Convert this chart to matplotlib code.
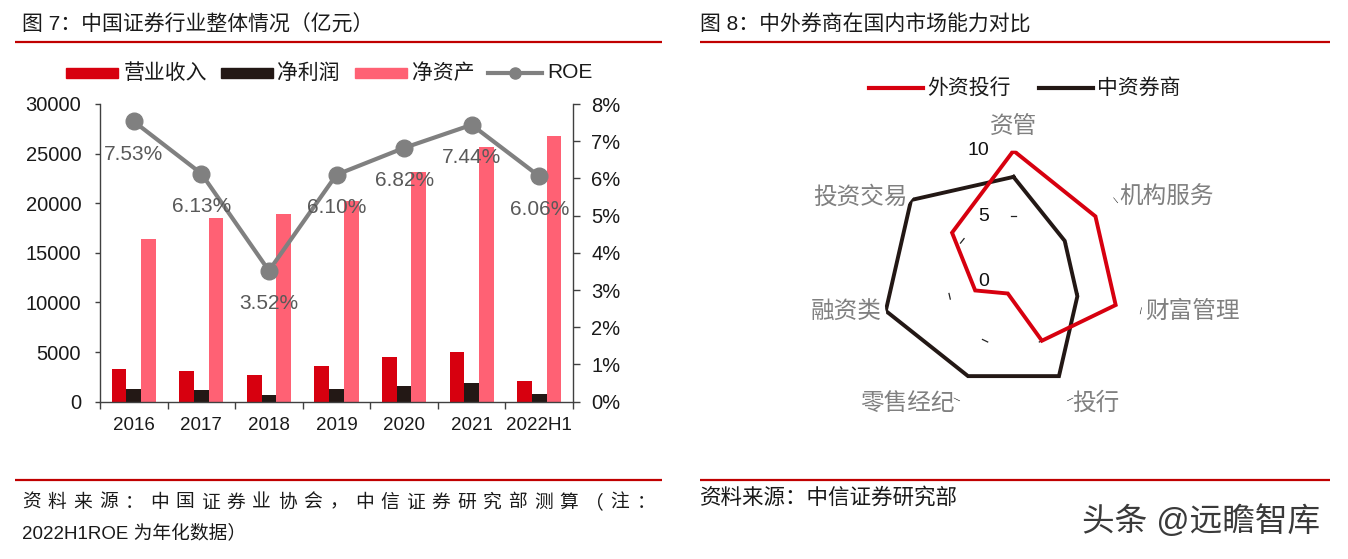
import numpy as np
import matplotlib
matplotlib.use('Agg')
import matplotlib.pyplot as plt
from matplotlib.lines import Line2D
from matplotlib.patches import Rectangle
import matplotlib.transforms as mtransforms

plt.rcParams['font.family'] = ['Liberation Sans', 'Noto Sans CJK SC']

# ---------------- data ----------------
years = ['2016', '2017', '2018', '2019', '2020', '2021', '2022H1']
revenue = [3280, 3113, 2663, 3605, 4485, 5024, 2055]          # 营业收入
net_profit = [1234, 1130, 666, 1231, 1575, 1911, 785]          # 净利润
net_assets = [16400, 18500, 18900, 20200, 23100, 25700, 26800]  # 净资产
roe = [7.53, 6.13, 3.52, 6.10, 6.82, 7.44, 6.06]               # ROE (%)

left_ticks = [0, 5000, 10000, 15000, 20000, 25000, 30000]
right_ticks = [0, 1, 2, 3, 4, 5, 6, 7, 8]

radar_axes = ['资管', '机构服务', '财富管理', '投行', '零售经纪', '融资类', '投资交易']
foreign = [10, 8, 8, 5, 1, 3, 6]      # 外资投行
domestic = [8, 5, 5, 8, 8, 10, 10]    # 中资券商
radar_ticks = [0, 5, 10]

# ---------------- style ----------------
RED = '#D7000F'
BLACK = '#231815'
PINK = '#FF6174'
GRAY = '#7F7F7F'
LINE_RED = '#C00000'
TXT = '#1A1A1A'

W, H = 1348, 559
fig = plt.figure(figsize=(W / 100, H / 100), dpi=100)


def fx(x):
    return x / W


def fy(y):
    return 1 - y / H


def hline(x0, x1, y, lw=1.6, color=LINE_RED):
    fig.add_artist(Line2D([fx(x0), fx(x1)], [fy(y), fy(y)], color=color, lw=lw,
                          transform=fig.transFigure, solid_capstyle='butt'))


# titles and rules
fig.text(fx(22), fy(25), '图 7：中国证券行业整体情况（亿元）', fontsize=15, color=TXT, va='center')
fig.text(fx(700), fy(25), '图 8：中外券商在国内市场能力对比', fontsize=15, color=TXT, va='center')
hline(15, 662, 41.7)
hline(700, 1330, 41.7)
hline(15, 662, 480)
hline(700, 1330, 480)

# ---------------- left chart ----------------
ax = fig.add_axes([fx(100), fy(401.7), fx(573) - fx(100), (401.7 - 104) / H])
x = np.arange(len(years))
bw = 0.218
ax.bar(x - bw, revenue, bw, color=RED, zorder=2)
ax.bar(x, net_profit, bw, color=BLACK, zorder=2)
ax.bar(x + bw, net_assets, bw, color=PINK, zorder=2)
ax.set_xlim(-0.5, len(years) - 0.5)
ax.set_ylim(0, 30000)
ax.set_yticks(left_ticks)
ax.set_yticklabels([str(v) for v in left_ticks])
ax.set_xticks(np.arange(-0.5, len(years), 1))
ax.set_xticklabels([])
ax.set_xticks(x, minor=True)
ax.set_xticklabels(years, minor=True)
ax.tick_params(axis='x', which='major', direction='out', length=5, width=1, color='#404040')
ax.tick_params(axis='x', which='minor', length=0, pad=11, labelsize=13.5, labelcolor=TXT)
ax.tick_params(axis='y', direction='out', length=3.5, width=1, color='#404040', labelsize=14.5,
               labelcolor=TXT, pad=10)
for s in ['top', 'right']:
    ax.spines[s].set_visible(False)
for s in ['left', 'bottom']:
    ax.spines[s].set_color('#404040')
    ax.spines[s].set_linewidth(1)

ax2 = ax.twinx()
ax2.set_ylim(0, 8)
ax2.set_yticks(right_ticks)
ax2.set_yticklabels([f'{v}%' for v in right_ticks])
ax2.plot(x, roe, color='#808080', lw=3, marker='o', markersize=12,
         markerfacecolor='#808080', markeredgecolor='#808080', zorder=3)
for i, v in enumerate(roe):
    ax2.annotate(f'{v:.2f}%', (i, v), xytext=(0, -33), textcoords='offset pixels',
                 ha='center', va='center', fontsize=15, color='#595959', zorder=4)
ax2.tick_params(axis='y', direction='out', length=5, width=1, color='#404040', labelsize=14.5,
                labelcolor=TXT, pad=8)
for s in ['top', 'left', 'bottom']:
    ax2.spines[s].set_visible(False)
ax2.spines['right'].set_color('#404040')
ax2.spines['right'].set_linewidth(1)

# left legend
ly = 72.7
leg_items = [(66, 118, RED, '营业收入', 123.5), (221, 273, BLACK, '净利润', 277.5),
             (355, 407, PINK, '净资产', 412)]
for x0, x1, c, lab, tx in leg_items:
    fig.add_artist(Rectangle((fx(x0), fy(ly + 5)), fx(x1) - fx(x0), 10 / H, color=c,
                             transform=fig.transFigure))
    fig.text(fx(tx), fy(ly), lab, fontsize=15, color=TXT, va='center', ha='left')
fig.add_artist(Line2D([fx(488), fx(542)], [fy(ly), fy(ly)], color='#808080', lw=3,
                      transform=fig.transFigure))
fig.add_artist(Line2D([fx(515)], [fy(ly)], color='#808080', marker='o', markersize=8,
                      transform=fig.transFigure))
fig.text(fx(547), fy(ly), 'ROE', fontsize=15, color=TXT, va='center', ha='left')

# left source
src1 = '资料来源：中国证券业协会，中信证券研究部测算（注：'
fs_src = 13.5
cw = fs_src / 0.72
centers = np.linspace(22 + cw / 2, 655 - cw / 2, len(src1))
for ch, cx in zip(src1, centers):
    fig.text(fx(cx), fy(503), ch, fontsize=fs_src, color=TXT, ha='center', va='center')
fig.text(fx(22), fy(533), '2022H1ROE 为年化数据）', fontsize=fs_src, color=TXT, ha='left', va='center')

# ---------------- radar chart ----------------
cx0, cy0, R = 1013.5, 281.7, 131
axr = fig.add_axes([fx(cx0 - R), fy(cy0 + R), 2 * R / W, 2 * R / H], projection='polar')
axr.set_theta_offset(np.pi / 2)
axr.set_theta_direction(-1)
axr.set_ylim(0, 10)
axr.grid(False)
axr.set_xticks([])
axr.set_yticks([])
axr.spines['polar'].set_visible(False)
axr.patch.set_alpha(0)

n = len(radar_axes)
ang = [2 * np.pi * i / n for i in range(n)]
ang_c = ang + [ang[0]]
axr.plot(ang_c, domestic + [domestic[0]], color=BLACK, lw=2.8, solid_joinstyle='miter', zorder=3)
axr.plot(ang_c, foreign + [foreign[0]], color=RED, lw=2.8, solid_joinstyle='miter', zorder=4)

# small tick marks
for a in ang:
    for r in [5, 10]:
        d = 0.22
        axr.plot([a - np.arctan(d / r), a + np.arctan(d / r)], [np.hypot(r, d), np.hypot(r, d)],
                 color='#222222', lw=0.9, zorder=2)

# radial labels
offs = mtransforms.offset_copy(axr.transData, fig=fig, x=-24, y=0, units='dots')
for t in radar_ticks:
    axr.text(0, t, str(t), transform=offs, ha='right', va='center', fontsize=14, color='#111111')

# axis labels
lab_col = '#808080'
axr.text(ang[0], 11.8, radar_axes[0], ha='center', va='center', fontsize=17, color=lab_col)
for i in range(1, n):
    ha = 'left' if ang[i] < np.pi else 'right'
    axr.text(ang[i], 10.35, radar_axes[i], ha=ha, va='center', fontsize=17, color=lab_col)

# radar legend
ry = 88
fig.add_artist(Line2D([fx(869), fx(923)], [fy(ry), fy(ry)], color=RED, lw=3,
                      transform=fig.transFigure))
fig.text(fx(927), fy(ry), '外资投行', fontsize=15, color=TXT, va='center', ha='left')
fig.add_artist(Line2D([fx(1039), fx(1093)], [fy(ry), fy(ry)], color=BLACK, lw=3,
                      transform=fig.transFigure))
fig.text(fx(1097), fy(ry), '中资券商', fontsize=15, color=TXT, va='center', ha='left')

# right source
fig.text(fx(700), fy(498), '资料来源：中信证券研究部', fontsize=15.5, color=TXT, ha='left', va='center')

# watermark
fig.text(fx(1082), fy(522), '头条 @远瞻智库', fontsize=23.5, color='#3A3A3A', ha='left', va='center')

fig.savefig('out.png', dpi=100)
